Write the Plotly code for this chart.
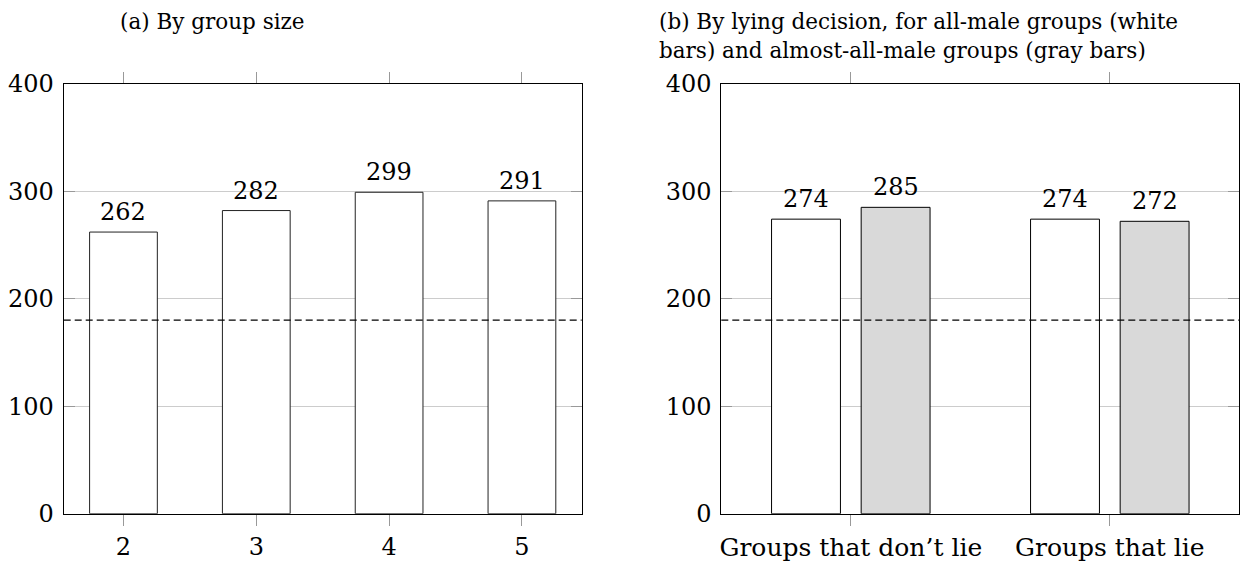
import plotly.graph_objects as go

# ---- data ----
group_sizes = [2, 3, 4, 5]
means_by_size = [262, 282, 299, 291]
decision_labels = ["Groups that don\u2019t lie", "Groups that lie"]
all_male = [274, 274]
almost_all_male = [285, 272]
reference_value = 180
y_ticks = [0, 100, 200, 300, 400]
title_a = "(a) By group size"
title_b_lines = ["(b) By lying decision, for all-male groups (white",
                 "bars) and almost-all-male groups (gray bars)"]

W, H = 1240, 562
FONT = "DejaVu Serif"
TICKFS = 24
TITLEFS = 21.5

def px(x):
    return x / W

def py(y):
    return 1 - y / H

fig = go.Figure()

fig.add_trace(go.Bar(x=group_sizes, y=means_by_size, width=0.51,
                     marker=dict(color="white", line=dict(color="#222", width=1)),
                     xaxis="x", yaxis="y", showlegend=False))
fig.add_trace(go.Bar(x=decision_labels, y=all_male, width=0.266, offset=-0.306,
                     marker=dict(color="white", line=dict(color="black", width=1)),
                     xaxis="x2", yaxis="y2", showlegend=False))
fig.add_trace(go.Bar(x=decision_labels, y=almost_all_male, width=0.266, offset=0.040,
                     marker=dict(color="#d9d9d9", line=dict(color="black", width=1)),
                     xaxis="x2", yaxis="y2", showlegend=False))

lab_font = dict(size=TICKFS, family=FONT, color="black")
annotations = []
for xv, yv in zip(group_sizes, means_by_size):
    annotations.append(dict(x=xv, y=yv, xref="x", yref="y", text=str(yv), showarrow=False,
                            yanchor="bottom", yshift=4, font=lab_font))
for i, yv in enumerate(all_male):
    annotations.append(dict(x=i - 0.173, y=yv, xref="x2", yref="y2", text=str(yv), showarrow=False,
                            yanchor="bottom", yshift=4, font=lab_font))
for i, yv in enumerate(almost_all_male):
    annotations.append(dict(x=i + 0.173, y=yv, xref="x2", yref="y2", text=str(yv), showarrow=False,
                            yanchor="bottom", yshift=4, font=lab_font))

title_font = dict(size=TITLEFS, family=FONT, color="black")
annotations.append(dict(x=px(118), y=py(22), xref="paper", yref="paper", text=title_a, showarrow=False,
                        xanchor="left", yanchor="middle", align="left", font=title_font))
for k, (line, yc) in enumerate(zip(title_b_lines, [22, 51])):
    annotations.append(dict(x=px(657), y=py(yc), xref="paper", yref="paper", text=line, showarrow=False,
                            xanchor="left", yanchor="middle", align="left", font=title_font))

shapes = []
for xr, yr in (("x domain", "y"), ("x2 domain", "y2")):
    shapes.append(dict(type="line", xref=xr, yref=yr, x0=0, x1=1, y0=reference_value, y1=reference_value,
                       line=dict(color="black", width=1.2, dash="7px,4px"), layer="above"))

yaxis_common = dict(range=[0, 400], tickvals=y_ticks, showgrid=True, gridcolor="#cccccc", gridwidth=1,
                    showline=True, linecolor="black", linewidth=1, mirror="ticks",
                    ticks="inside", ticklen=11, tickcolor="#999999", tickwidth=1,
                    zeroline=False, tickfont=dict(size=TICKFS, family=FONT, color="black"),
                    ticklabelstandoff=4, automargin=False)
xaxis_common = dict(showgrid=False, showline=True, linecolor="black", linewidth=1, mirror="ticks",
                    ticks="outside", ticklen=11, tickcolor="#999999", tickwidth=1, zeroline=False,
                    automargin=False)

fig.update_layout(
    width=W, height=H,
    margin=dict(l=0, r=0, t=0, b=0, autoexpand=False),
    paper_bgcolor="white", plot_bgcolor="white",
    xaxis=dict(domain=[px(63.7), px(581.7)], range=[1.55, 5.45], tickvals=group_sizes,
               anchor="y", tickfont=dict(size=TICKFS, family=FONT, color="black"), **xaxis_common),
    yaxis=dict(domain=[py(513.7), py(83.7)], anchor="x", **yaxis_common),
    xaxis2=dict(domain=[px(721.3), px(1239.3)], range=[-0.5, 1.5], type="category",
                anchor="y2", tickfont=dict(size=25, family=FONT, color="black"), **xaxis_common),
    yaxis2=dict(domain=[py(513.7), py(83.7)], anchor="x2", **yaxis_common),
    annotations=annotations,
    shapes=shapes,
    font=dict(family=FONT, color="black"),
)

fig.write_html("out.html", config={"displayModeBar": False},
               post_script="document.body.style.margin='0';document.body.style.overflow='hidden';")
